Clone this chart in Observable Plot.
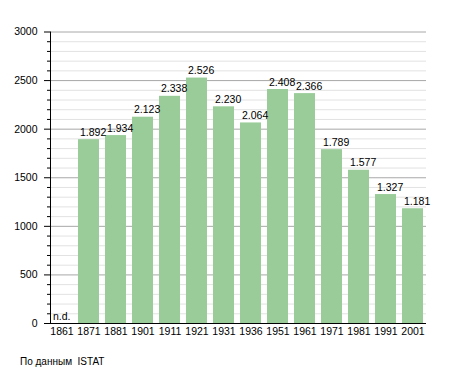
<!DOCTYPE html>
<html>
<head>
<meta charset="utf-8">
<script src="https://cdn.jsdelivr.net/npm/d3@7"></script>
<script src="https://cdn.jsdelivr.net/npm/@observablehq/plot@0.6"></script>
<style>
  html, body { margin: 0; padding: 0; background: #fff; }
  body { position: relative; width: 455px; height: 373px; font-family: "Liberation Sans", Arial, sans-serif; }
  #chart svg { display: block; }
  #caption { position: absolute; left: 20px; top: 356px; font-size: 10px; color: #000; white-space: pre; }
</style>
</head>
<body>
<div id="chart"></div>
<div id="caption">По данным  ISTAT</div>
<script>
const years = ["1861","1871","1881","1901","1911","1921","1931","1936","1951","1961","1971","1981","1991","2001"];
const population = [null,1892,1934,2123,2338,2526,2230,2064,2408,2366,1789,1577,1327,1181];
const majorTicks = [0,500,1000,1500,2000,2500,3000];
const minorTicks = d3.range(0, 3001, 100).filter(v => v % 500 !== 0);

const fmt = v => v == null ? "n.d." : d3.format(",")(v).replace(/,/g, ".");
const data = years.map((y, i) => ({year: y, value: population[i], label: fmt(population[i])}));

const chart = Plot.plot({
  width: 455,
  height: 345,
  marginLeft: 50,
  marginRight: 29,
  marginTop: 31.5,
  marginBottom: 22,
  style: {fontFamily: "Liberation Sans, Arial, sans-serif", fontSize: "10px", color: "#000", background: "#fff"},
  x: {domain: years, range: [48.5, 425.8], paddingInner: 0.23, paddingOuter: 0, label: null},
  y: {domain: [0, 3000], label: null},
  marks: [
    Plot.ruleY(minorTicks, {stroke: "#e2e2e2", strokeWidth: 1}),
    Plot.ruleY(majorTicks.filter(v => v > 0), {stroke: "#a8a8a8", strokeWidth: 1}),
    Plot.barY(data.filter(d => d.value != null), {x: "year", y: "value", fill: "#99cc99"}),
    Plot.text(data, {x: "year", y: d => d.value ?? 0, text: "label", textAnchor: "start", lineAnchor: "bottom", dx: -9, dy: -4, fontSize: 10.5, fill: "#000"}),
    Plot.axisY(minorTicks, {tickSize: 3, text: null, stroke: "#000"}),
    Plot.axisY(majorTicks, {tickSize: 6, tickPadding: 7, tickFormat: "d", fontSize: 10.5, stroke: "#000"}),
    Plot.axisX({tickSize: 0, tickPadding: 4, fontSize: 10.5}),
    Plot.frame({anchor: "left", stroke: "#000"}),
    Plot.ruleY([0], {stroke: "#000"})
  ]
});
document.getElementById("chart").appendChild(chart);
</script>
</body>
</html>
